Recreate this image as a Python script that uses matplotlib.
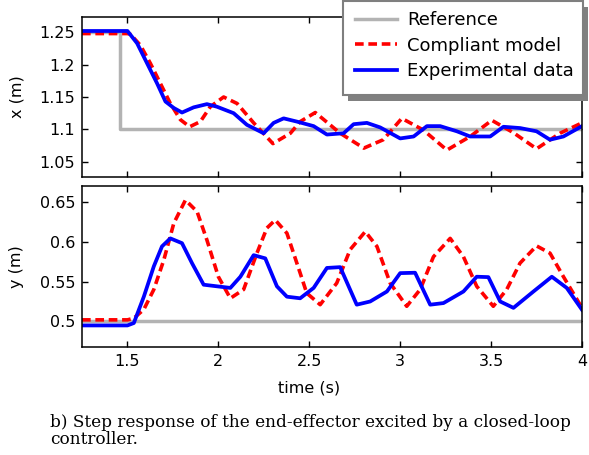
import matplotlib
matplotlib.use("Agg")
import matplotlib.pyplot as plt
from matplotlib.patches import Rectangle

# reference step
ref_t = [1.25, 1.46, 1.46, 4.0]
ref_x = [1.25, 1.25, 1.10, 1.10]
ref_y = [0.5, 0.5, 0.5, 0.5]

# compliant model, x position
model_tx = [1.25, 1.50, 1.516, 1.571, 1.626, 1.681, 1.736, 1.791, 1.842, 1.901,
            1.956, 2.029, 2.103, 2.194, 2.30, 2.396, 2.45, 2.533, 2.67, 2.80,
            2.907, 3.009, 3.127, 3.257, 3.385, 3.504, 3.622, 3.75, 3.879, 4.0]
model_x = [1.248, 1.248, 1.247, 1.230, 1.202, 1.171, 1.140, 1.115, 1.104, 1.112,
           1.135, 1.150, 1.140, 1.110, 1.078, 1.094, 1.112, 1.126, 1.094, 1.071,
           1.084, 1.117, 1.099, 1.068, 1.089, 1.114, 1.095, 1.070, 1.094, 1.110]

# experimental data, x position
exp_tx = [1.25, 1.50, 1.553, 1.608, 1.663, 1.709, 1.755, 1.80, 1.864, 1.937,
          1.992, 2.084, 2.157, 2.249, 2.304, 2.359, 2.432, 2.524, 2.597, 2.689,
          2.744, 2.817, 2.89, 3.0, 3.074, 3.147, 3.22, 3.312, 3.385, 3.495,
          3.568, 3.66, 3.75, 3.824, 3.898, 4.0]
exp_x = [1.252, 1.252, 1.233, 1.202, 1.171, 1.143, 1.133, 1.126, 1.134, 1.139,
         1.135, 1.125, 1.107, 1.094, 1.110, 1.117, 1.112, 1.105, 1.092, 1.094,
         1.108, 1.110, 1.103, 1.086, 1.089, 1.105, 1.105, 1.097, 1.089, 1.089,
         1.104, 1.102, 1.097, 1.084, 1.089, 1.105]

# compliant model, y position
model_ty = [1.25, 1.50, 1.535, 1.59, 1.645, 1.70, 1.755, 1.819, 1.883, 1.937,
            2.0, 2.066, 2.139, 2.212, 2.267, 2.313, 2.377, 2.45, 2.486, 2.56,
            2.651, 2.725, 2.808, 2.872, 2.945, 3.036, 3.11, 3.183, 3.275, 3.348,
            3.421, 3.512, 3.586, 3.659, 3.75, 3.824, 3.898, 4.0]
model_y = [0.502, 0.502, 0.504, 0.515, 0.540, 0.577, 0.623, 0.652, 0.6375, 0.602,
           0.556, 0.529, 0.540, 0.5855, 0.617, 0.627, 0.6105, 0.5605, 0.5355, 0.521,
           0.548, 0.590, 0.6125, 0.594, 0.548, 0.519, 0.540, 0.581, 0.604, 0.581,
           0.544, 0.519, 0.540, 0.573, 0.5946, 0.5855, 0.556, 0.517]

# experimental data, y position
exp_ty = [1.25, 1.50, 1.535, 1.59, 1.645, 1.69, 1.736, 1.80, 1.855, 1.919,
          1.992, 2.066, 2.121, 2.194, 2.258, 2.322, 2.377, 2.45, 2.524, 2.597,
          2.67, 2.761, 2.835, 2.927, 3.0, 3.082, 3.165, 3.238, 3.348, 3.421,
          3.485, 3.55, 3.623, 3.733, 3.834, 3.916, 4.0]
exp_y = [0.495, 0.495, 0.498, 0.531, 0.569, 0.594, 0.604, 0.598, 0.573, 0.546,
         0.544, 0.542, 0.556, 0.583, 0.579, 0.544, 0.531, 0.529, 0.542, 0.567,
         0.568, 0.521, 0.525, 0.5375, 0.5605, 0.561, 0.521, 0.523, 0.5375, 0.556,
         0.5555, 0.525, 0.517, 0.5375, 0.556, 0.542, 0.5146]

xticks = [1.5, 2, 2.5, 3, 3.5, 4]
xtick_labels = ["1.5", "2", "2.5", "3", "3.5", "4"]
xpos_ticks = [1.05, 1.1, 1.15, 1.2, 1.25]
xpos_labels = ["1.05", "1.1", "1.15", "1.2", "1.25"]
ypos_ticks = [0.5, 0.55, 0.6, 0.65]
ypos_labels = ["0.5", "0.55", "0.6", "0.65"]

plt.rcParams["font.family"] = "DejaVu Sans"
W, H = 589, 455
fig = plt.figure(figsize=(W / 100, H / 100), dpi=100)

ax1 = fig.add_axes([82 / W, 1 - 177 / H, 500 / W, 160 / H])
ax2 = fig.add_axes([82 / W, 1 - 347 / H, 500 / W, 161 / H])

gray = "#b3b3b3"
for ax in (ax1, ax2):
    ax.set_xlim(1.25, 4.0)
    ax.set_xticks(xticks)
    ax.tick_params(direction="in", top=True, right=True, length=4,
                   width=1, labelsize=11.5, pad=5)
    for s in ax.spines.values():
        s.set_linewidth(1.1)

ax1.plot(ref_t, ref_x, color=gray, lw=2.5, label="Reference")
ax1.plot(model_tx, model_x, color="red", lw=2.6, ls=(0, (2.4, 1.3)),
         label="Compliant model")
ax1.plot(exp_tx, exp_x, color="blue", lw=2.7, label="Experimental data")
ax1.set_ylim(1.0264, 1.2736)
ax1.set_yticks(xpos_ticks)
ax1.set_yticklabels(xpos_labels)
ax1.set_xticklabels([])
ax1.set_ylabel("x (m)", fontsize=11.5)
ax1.yaxis.set_label_coords(-0.116, 0.5)

ax2.plot(ref_t, ref_y, color=gray, lw=2.5)
ax2.plot(model_ty, model_y, color="red", lw=2.6, ls=(0, (2.4, 1.3)))
ax2.plot(exp_ty, exp_y, color="blue", lw=2.7)
ax2.set_ylim(0.468, 0.6696)
ax2.set_yticks(ypos_ticks)
ax2.set_yticklabels(ypos_labels)
ax2.set_xticklabels(xtick_labels)
ax2.set_ylabel("y (m)", fontsize=11.5)
ax2.yaxis.set_label_coords(-0.116, 0.5)

fig.text(309 / W, 1 - 388 / H, "time (s)", ha="center", va="center", fontsize=11.5)

# legend frame with drop shadow
fig.patches.append(Rectangle((348 / W, 1 - 101 / H), 240 / W, 94 / H,
                             transform=fig.transFigure, facecolor="#808080",
                             edgecolor="none", zorder=1))
fig.patches.append(Rectangle((343 / W, 1 - 95 / H), 240 / W, 94 / H,
                             transform=fig.transFigure, facecolor="white",
                             edgecolor="#7f7f7f", lw=1.5, zorder=2))
h, l = ax1.get_legend_handles_labels()
fig.legend(h, l, loc="upper left", bbox_to_anchor=(355 / W, 1 - 11 / H),
           bbox_transform=fig.transFigure, frameon=False, fontsize=13,
           handlelength=2.3, handletextpad=0.6, labelspacing=0.42,
           borderpad=0, borderaxespad=0)

fig.text(50 / W, 1 - 414 / H,
         "b) Step response of the end-effector excited by a closed-loop\ncontroller.",
         family="DejaVu Serif", fontsize=12.2, ha="left", va="top", linespacing=1.0)

fig.savefig("out.png", dpi=100)
